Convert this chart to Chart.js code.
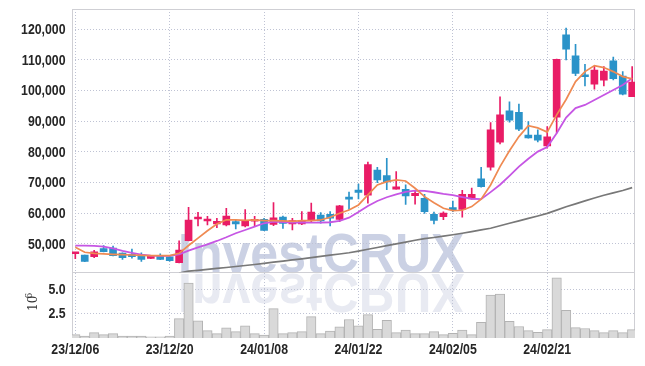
<!DOCTYPE html>
<html><head><meta charset="utf-8">
<script src="https://cdn.jsdelivr.net/npm/chart.js@4"></script>
<style>html,body{margin:0;padding:0;background:#fff;}canvas{display:block;}</style>
</head><body>
<canvas id="c" width="645" height="366"></canvas>
<script>
const dates = ['23/12/06','23/12/07','23/12/08','23/12/11','23/12/12','23/12/13','23/12/14','23/12/15','23/12/18','23/12/19',
 '23/12/20','23/12/21','23/12/22','23/12/26','23/12/27','23/12/28','24/01/02','24/01/03','24/01/04','24/01/05',
 '24/01/08','24/01/09','24/01/10','24/01/11','24/01/12','24/01/15','24/01/16','24/01/17','24/01/18','24/01/19',
 '24/01/22','24/01/23','24/01/24','24/01/25','24/01/26','24/01/29','24/01/30','24/01/31','24/02/01','24/02/02',
 '24/02/05','24/02/06','24/02/07','24/02/08','24/02/13','24/02/14','24/02/15','24/02/16','24/02/19','24/02/20',
 '24/02/21','24/02/22','24/02/23','24/02/26','24/02/27','24/02/28','24/02/29','24/03/04','24/03/05','24/03/06'];
const tickIndex = [0,10,20,30,40,50];
const open = [46800,46400,45900,48470,48700,47000,46650,46400,45300,46300,
 45850,43900,51080,58150,57500,56500,56200,57300,55900,57400,
 58000,56400,58800,56500,56500,57600,59400,59700,58000,65100,
 67600,65900,74100,72300,67900,67800,65750,64900,59700,58900,
 61400,61300,64700,71200,75000,83200,93400,92900,85500,85500,
 82000,91300,118200,111300,104700,102100,103400,109700,104700,98000];
const high = [47100,46400,47950,49450,49300,47100,48300,47150,46200,46750,
 46000,51050,61970,60300,59000,58400,61600,57800,61200,59000,
 58400,63500,59100,58400,60600,63300,60200,60600,62600,66900,
 69500,76700,75000,77900,73600,69300,67400,66200,60400,60500,
 64000,67500,68200,75000,89600,98000,96300,95600,89900,87200,
 88300,110300,120400,115100,108600,107900,107800,110900,106200,107800];
const low = [45200,44200,45500,47400,46100,45000,45400,44350,45200,44900,
 44400,43800,51000,55900,56200,55300,55900,54900,55600,55800,
 54300,56000,55100,54600,56300,57100,56800,55900,57300,61300,
 64700,63300,70000,67700,67900,62900,63000,60000,56500,57900,
 60500,58700,64600,68500,74100,82600,89700,86900,84500,83300,
 81200,86200,110000,104900,101500,100500,101500,103500,98600,98000];
const close = [47000,44300,47400,47500,46200,45500,45850,45000,46100,45000,
 44550,48050,57830,58450,57900,57400,59100,56500,57700,58000,
 54400,58500,56700,57600,57500,60400,57500,58400,62400,64600,
 66800,75900,70900,70200,68600,65700,66500,60500,57700,60100,
 61200,66200,66200,68700,87200,92100,90400,87400,84600,83800,
 84900,110200,113500,105600,104500,106700,106400,103900,98800,102800];
const ma5 = [48900,47300,46960,46800,46640,46500,46410,46300,46180,46180,
 46180,46960,49500,51900,54300,56500,57900,57830,57700,57830,
 57600,57600,57500,57400,57600,57600,57830,58710,60010,61090,
 62720,65980,69240,70320,70870,70540,68160,65420,63470,61640,
 60860,61000,62200,64580,69240,75230,80400,85000,88530,87830,
 86460,92100,97100,102930,106190,108150,107500,106190,104560,103810];
const ma20 = [49450,49450,49350,49130,48600,47720,47070,46550,46180,46090,
 46090,46640,47820,48920,49900,50980,52180,53490,54560,55640,
 56750,57270,57150,56950,57080,56950,56950,57080,57500,58580,
 60400,62390,64020,65230,66200,66960,67380,67280,66860,66310,
 65900,65300,64750,64600,66900,69300,72200,75200,77800,80100,
 81600,86100,91200,94300,95330,96960,98590,100220,101850,104030];
const ma60 = [null,null,null,null,null,null,null,null,null,null,
 null,40500,41130,41420,41720,42040,42340,42660,42990,43310,
 43670,44060,44420,44810,45170,45560,45960,46350,46740,47130,
 47680,48270,48860,49450,50030,50620,51210,51730,52120,52540,
 53000,53490,54040,54570,55120,55940,56750,57530,58350,59130,
 59980,61020,62130,63080,64050,65000,65880,66660,67450,68360];
const volume = [0.34,0.2,0.55,0.34,0.45,0.2,0.2,0.2,0.12,0.12,
 0.2,1.98,5.63,1.77,0.76,0.45,1.04,0.66,1.25,0.45,
 0.31,3.02,0.45,0.55,0.66,2.19,0.45,0.7,1.15,1.9,
 1.25,2.4,0.9,1.8,0.55,0.8,0.45,0.45,0.66,0.34,
 0.48,0.8,0.34,1.6,4.4,4.5,1.7,1.18,0.76,0.58,
 0.86,6.18,2.84,1.07,0.97,0.76,0.55,0.76,0.55,0.86];
const priceTicks = [50000,60000,70000,80000,90000,100000,110000,120000];
const volTicks = [2.5,5.0];

const RED = '#e91c66', BLUE = '#2b93c9';
const colors = close.map((c,i)=> c >= open[i] ? RED : BLUE);
const xy = arr => arr.map((v,i)=>({x:i,y:v}));
const GRID = '#bfc3d4';
const fmt = {
  x: v => dates[v],
  y: v => v.toLocaleString('en-US'),
  yv: v => v.toFixed(1)
};

const deco = {
  id:'deco',
  beforeDraw(chart){
    const ctx = chart.ctx;
    ctx.save();
    ctx.fillStyle = '#fff';
    ctx.fillRect(0,0,chart.width,chart.height);
    ctx.font = "bold 55px 'Liberation Sans', Arial, sans-serif";
    ctx.textBaseline = 'alphabetic';
    ctx.fillStyle = '#cbd1e4';
    ctx.translate(178, 272);
    ctx.scale(0.91, 1);
    ctx.fillText('InvestCRUX', 0, 0);
    ctx.scale(1, -1);
    ctx.fillStyle = '#e8eaf2';
    ctx.fillText('InvestCRUX', 0, -2);
    ctx.restore();
  },
  beforeDatasetsDraw(chart){
    const ctx = chart.ctx, a = chart.chartArea, yp = chart.scales.y, yv = chart.scales.yv;
    ctx.save();
    ctx.strokeStyle = '#cfcfd4';
    ctx.lineWidth = 1;
    ctx.strokeRect(Math.round(a.left)+0.5, Math.round(yp.top)+0.5, Math.round(a.right-a.left)-1, Math.round(yp.bottom-yp.top));
    ctx.strokeRect(Math.round(a.left)+0.5, Math.round(yv.top)+0.5, Math.round(a.right-a.left)-1, Math.round(yv.bottom-yv.top)-1);
    ctx.restore();
  },
  afterDraw(chart){
    const ctx = chart.ctx;
    ctx.save();
    ctx.fillStyle = '#262626';
    ctx.font = "bold 15px 'Liberation Sans', Arial, sans-serif";
    const SX = 0.82;
    ['y','yv'].forEach(id => {
      const s = chart.scales[id];
      ctx.textAlign = 'right'; ctx.textBaseline = 'middle';
      s.ticks.forEach(t => {
        const py = s.getPixelForValue(t.value);
        ctx.save(); ctx.translate(65.5, py + 0.5); ctx.scale(SX, 1);
        ctx.fillText(fmt[id](t.value), 0, 0); ctx.restore();
      });
    });
    const sx = chart.scales.x;
    ctx.textAlign = 'center'; ctx.textBaseline = 'alphabetic';
    sx.ticks.forEach(t => {
      const px = sx.getPixelForValue(t.value);
      ctx.save(); ctx.translate(px, 354); ctx.scale(SX, 1);
      ctx.fillText(fmt.x(t.value), 0, 0); ctx.restore();
    });
    ctx.restore();
    ctx.save();
    ctx.fillStyle = '#333';
    ctx.translate(36.5, 0);
    ctx.rotate(-Math.PI/2);
    ctx.textBaseline = 'alphabetic';
    ctx.textAlign = 'left';
    ctx.font = "12px 'DejaVu Serif', serif";
    ctx.fillText('10', -311, 0);
    ctx.font = "9px 'DejaVu Serif', serif";
    ctx.fillText('6', -298.5, -4.5);
    ctx.restore();
  }
};

new Chart(document.getElementById('c'), {
  type:'bar',
  data:{ datasets:[
    {type:'line', data:xy(ma5), borderColor:'#ef8a52', borderWidth:1.7, pointRadius:0, yAxisID:'y', xAxisID:'x', order:0},
    {type:'line', data:xy(ma20), borderColor:'#c656e4', borderWidth:1.8, pointRadius:0, yAxisID:'y', xAxisID:'x', order:0},
    {type:'line', data:xy(ma60), borderColor:'#787878', borderWidth:1.7, pointRadius:0, yAxisID:'y', xAxisID:'x', order:0},
    {type:'bar', data:close.map((c,i)=>({x:i,y:[low[i],high[i]]})), backgroundColor:colors, barThickness:1, grouped:false, yAxisID:'y', xAxisID:'x', order:1},
    {type:'bar', data:close.map((c,i)=>({x:i,y:[open[i],c]})), backgroundColor:colors, barThickness:7, minBarLength:2, grouped:false, yAxisID:'y', xAxisID:'x', order:1},
    {type:'bar', data:xy(volume), backgroundColor:'#d9d9d9', borderColor:'#b3b3b3', borderWidth:1, barPercentage:1, categoryPercentage:1, grouped:false, yAxisID:'yv', xAxisID:'x', order:2}
  ]},
  options:{
    responsive:false, animation:false, devicePixelRatio:1,
    layout:{padding:{top:9,right:10,left:0,bottom:0}},
    plugins:{legend:{display:false}, tooltip:{enabled:false}},
    scales:{
      x:{type:'linear', offset:false, min:-0.35, max:59.3,
        afterBuildTicks:s=>{s.ticks = tickIndex.map(v=>({value:v}));},
        afterFit:s=>{s.height = 28;},
        ticks:{display:false, autoSkip:false},
        grid:{color:GRID, drawTicks:false, offset:false}, border:{display:false, dash:[1,2]}},
      yv:{type:'linear', position:'left', stack:'p', stackWeight:1, min:0, max:6.75,
        afterBuildTicks:s=>{s.ticks = volTicks.map(v=>({value:v}));},
        afterFit:s=>{s.width = 72;},
        ticks:{display:false, autoSkip:false},
        grid:{color:GRID, drawTicks:false}, border:{display:false, dash:[1,2]}},
      y:{type:'linear', position:'left', stack:'p', stackWeight:4, min:40800, max:126600,
        afterBuildTicks:s=>{s.ticks = priceTicks.map(v=>({value:v}));},
        afterFit:s=>{s.width = 72;},
        ticks:{display:false, autoSkip:false},
        grid:{color:GRID, drawTicks:false}, border:{display:false, dash:[1,2]}}
    }
  },
  plugins:[deco]
});
</script>
</body></html>
